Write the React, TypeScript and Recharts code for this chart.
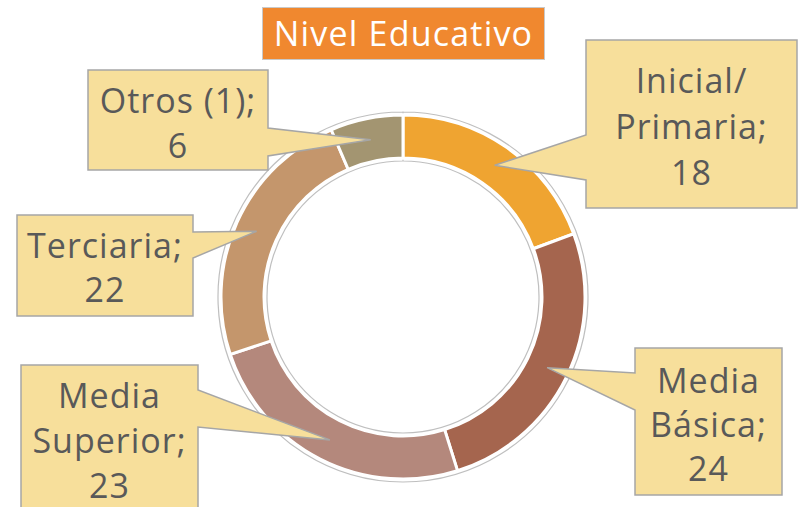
import React from 'react'
import { PieChart, Pie, Cell } from 'recharts'

// datos del gráfico
const levels = ['Inicial/ Primaria', 'Media Básica', 'Media Superior', 'Terciaria', 'Otros (1)']
const counts = [18, 24, 23, 22, 6]
const labelLines = [
  ['Inicial/', 'Primaria;', '18'],
  ['Media', 'Básica;', '24'],
  ['Media', 'Superior;', '23'],
  ['Terciaria;', '22'],
  ['Otros (1);', '6'],
]
const colors = ['#EFA431', '#A5654E', '#B4887C', '#C4966C', '#A39571']

const data = levels.map((name, i) => ({ name, value: counts[i] }))

// cajas de las llamadas (posición fijada a mano, como en el original)
const boxes = [
  { x: 586, y: 40, w: 211, h: 168, side: 'left', b1: 135, b2: 180, lineH: 46, top: 80 },
  { x: 635, y: 348, w: 147, h: 147, side: 'left', b1: 373, b2: 410, lineH: 44, top: 380 },
  { x: 21, y: 365, w: 177, h: 170, side: 'right', b1: 390, b2: 427, lineH: 45, top: 395 },
  { x: 17, y: 215, w: 176, h: 101, side: 'right', b1: 232, b2: 258, lineH: 44, top: 245 },
  { x: 88, y: 70, w: 180, h: 100, side: 'right', b1: 128, b2: 156, lineH: 45, top: 100 },
]

const CX = 403
const CY = 297
const INNER = 139
const OUTER = 182
const RAD = Math.PI / 180

const renderCallout = (props: any) => {
  const { cx, cy, midAngle, innerRadius, outerRadius, index } = props
  const b = boxes[index]
  const r = (innerRadius + outerRadius) / 2
  const tx = cx + r * Math.cos(-midAngle * RAD)
  const ty = cy + r * Math.sin(-midAngle * RAD)
  let d = `M${b.x},${b.y} H${b.x + b.w}`
  if (b.side === 'right') d += ` V${b.b1} L${tx},${ty} L${b.x + b.w},${b.b2}`
  d += ` V${b.y + b.h} H${b.x}`
  if (b.side === 'left') d += ` V${b.b2} L${tx},${ty} L${b.x},${b.b1}`
  d += ' Z'
  const lines = labelLines[index]
  const midX = b.x + b.w / 2
  return (
    <g key={`callout-${index}`}>
      <path d={d} fill="#F7DF9B" stroke="#A6A6A6" strokeWidth={1.5} />
      {lines.map((t, i) => (
        <text
          key={i}
          x={midX}
          y={b.top + i * b.lineH}
          textAnchor="middle"
          dominantBaseline="central"
          fill="#595959"
          fontSize={34}
          letterSpacing={1}
          fontFamily="'Open Sans', sans-serif"
        >
          {t}
        </text>
      ))}
    </g>
  )
}

export default function App() {
  return (
    <div style={{ position: 'fixed', left: 0, top: 0, width: 798, height: 507, background: '#fff' }}>
      <PieChart width={798} height={507} margin={{ top: 0, right: 0, bottom: 0, left: 0 }}>
        {/* contorno gris del anillo */}
        <Pie
          data={[{ name: 'ring', value: 1 }]}
          dataKey="value"
          cx={CX}
          cy={CY}
          innerRadius={INNER - 3}
          outerRadius={OUTER + 3}
          startAngle={90}
          endAngle={-270}
          fill="none"
          stroke="#BFBFBF"
          strokeWidth={1.2}
          isAnimationActive={false}
        />
        <Pie
          data={data}
          dataKey="value"
          nameKey="name"
          cx={CX}
          cy={CY}
          innerRadius={INNER}
          outerRadius={OUTER}
          startAngle={90}
          endAngle={-270}
          stroke="#fff"
          strokeWidth={3}
          label={renderCallout}
          labelLine={false}
          isAnimationActive={false}
        >
          {data.map((d, i) => (
            <Cell key={d.name} fill={colors[i]} />
          ))}
        </Pie>
      </PieChart>
      <div
        style={{
          position: 'absolute',
          left: 262,
          top: 7,
          width: 283,
          height: 53,
          background: '#F0882F',
          border: '1px solid #C9C9C9',
          boxSizing: 'border-box',
          color: '#fff',
          fontFamily: "'Open Sans', sans-serif",
          fontSize: 34,
          letterSpacing: 1.2,
          lineHeight: '50px',
          textAlign: 'center',
        }}
      >
        Nivel Educativo
      </div>
    </div>
  )
}
